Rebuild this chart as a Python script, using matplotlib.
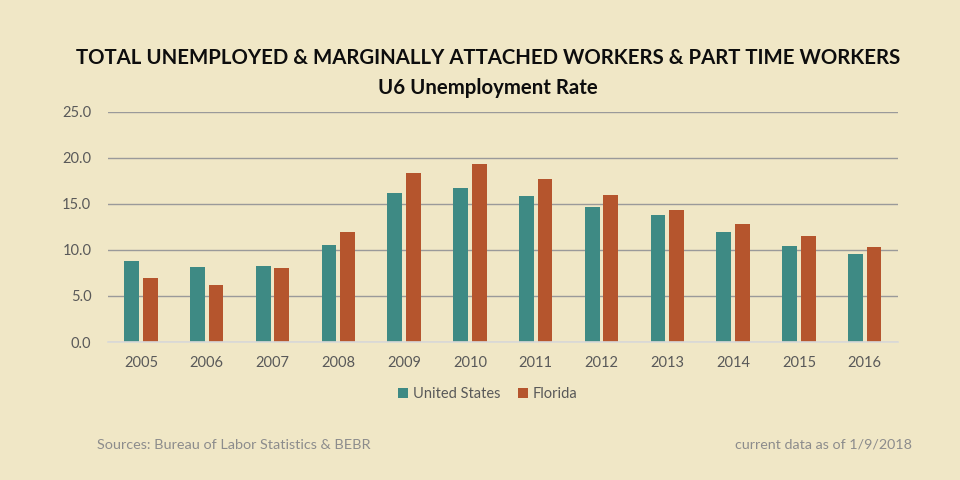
import matplotlib
matplotlib.use("Agg")
import matplotlib.pyplot as plt
import numpy as np

years = ["2005", "2006", "2007", "2008", "2009", "2010", "2011", "2012", "2013", "2014", "2015", "2016"]
us_values = [8.8, 8.2, 8.3, 10.5, 16.2, 16.7, 15.9, 14.7, 13.8, 12.0, 10.4, 9.6]
fl_values = [6.9, 6.2, 8.0, 11.9, 18.4, 19.3, 17.7, 16.0, 14.3, 12.8, 11.5, 10.3]
series_names = ["United States", "Florida"]
yticks = [0, 5, 10, 15, 20, 25]

BG = "#F0E7C6"
TEAL = "#3E8A84"
RUST = "#B5552D"

plt.rcParams["font.family"] = ["Lato", "DejaVu Sans"]

fig = plt.figure(figsize=(9.6, 4.8), dpi=100, facecolor=BG)
ax = fig.add_axes([0.1125, 0.2875, 0.8225, 0.4795])
ax.set_facecolor(BG)

x = np.arange(len(years))
w = 0.225
ax.bar(x - 0.14, us_values, width=w, color=TEAL, label=series_names[0], zorder=3)
ax.bar(x + 0.14, fl_values, width=w, color=RUST, label=series_names[1], zorder=3)

ax.set_xlim(-0.5, len(years) - 0.5)
ax.set_ylim(0, 25)
ax.set_yticks(yticks)
ax.set_yticklabels([f"{v:.1f}" for v in yticks])
ax.set_xticks(x)
ax.set_xticklabels(years)
ax.grid(axis="y", color="#9A9A9A", linewidth=1.0, zorder=0)
ax.tick_params(axis="both", length=0, labelsize=10.5, labelcolor="#595959")
ax.tick_params(axis="x", pad=10)
ax.tick_params(axis="y", pad=12)
for s in ["top", "right", "left"]:
    ax.spines[s].set_visible(False)
ax.spines["bottom"].set_color("#D9D9D9")
ax.spines["bottom"].set_linewidth(1.2)
ax.spines["bottom"].set_zorder(4)

fig.text(0.508, 0.879, "TOTAL UNEMPLOYED & MARGINALLY ATTACHED WORKERS & PART TIME WORKERS",
         ha="center", va="center", fontsize=14.7, fontweight="bold", color="#0D0D0D")
fig.text(0.508, 0.817, "U6 Unemployment Rate",
         ha="center", va="center", fontsize=14.7, fontweight="bold", color="#0D0D0D")

leg = fig.legend(loc="center", bbox_to_anchor=(0.508, 0.179), ncol=2, frameon=False,
                 fontsize=10.5, handlelength=0.7, handleheight=0.7, handletextpad=0.3,
                 columnspacing=1.2)
for t in leg.get_texts():
    t.set_color("#595959")

fig.text(0.101, 0.073, "Sources: Bureau of Labor Statistics & BEBR", ha="left", va="center",
         fontsize=10.4, color="#8C8C8C")
fig.text(0.950, 0.073, "current data as of 1/9/2018", ha="right", va="center",
         fontsize=10.3, color="#8C8C8C")

fig.savefig("out.png", dpi=100, facecolor=BG)
